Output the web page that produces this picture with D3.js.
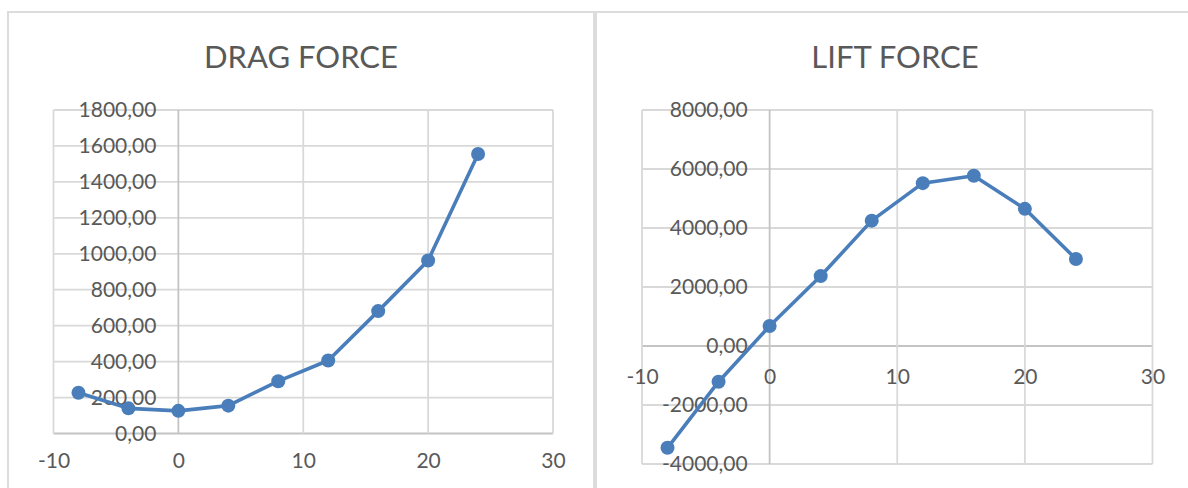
<!DOCTYPE html>
<html>
<head>
<meta charset="utf-8">
<script src="https://cdn.jsdelivr.net/npm/d3@7/dist/d3.min.js"></script>
<style>
  html, body { margin: 0; padding: 0; background: #ffffff; }
  svg { display: block; }
  text { font-family: Lato, "Open Sans", sans-serif; fill: #595959; }
</style>
</head>
<body>
<svg id="chart" width="1188" height="488"></svg>
<script>
// Angle of attack (degrees) shared by both series
const angles = [-8, -4, 0, 4, 8, 12, 16, 20, 24];

// Drag force values
const dragValues = [227, 140, 126, 155, 291, 406, 681, 963, 1555];

// Lift force values
const liftValues = [-3450, -1210, 680, 2370, 4250, 5520, 5770, 4650, 2950];

// Axis ticks
const xTicks = [-10, 0, 10, 20, 30];
const dragTicks = [0, 200, 400, 600, 800, 1000, 1200, 1400, 1600, 1800];
const liftTicks = [-4000, -2000, 0, 2000, 4000, 6000, 8000];

const titles = ["DRAG FORCE", "LIFT FORCE"];

const svg = d3.select("#chart");
const lineColor = "#4a7ebb";
const gridColor = "#d9d9d9";
const axisColor = "#c4c4c4";
// decimal comma and plain hyphen-minus, as in the spreadsheet locale
const fmt = v => d3.format(".2f")(v).replace(".", ",").replace("\u2212", "-");
const fmtInt = v => d3.format("d")(v).replace("\u2212", "-");

// Chart frames (chart-area borders)
svg.append("rect").attr("x", 8).attr("y", 12).attr("width", 586).attr("height", 490)
  .attr("fill", "#fff").attr("stroke", "#dcdcdc").attr("stroke-width", 2);
svg.append("rect").attr("x", 596).attr("y", 12).attr("width", 620).attr("height", 490)
  .attr("fill", "#fff").attr("stroke", "#dcdcdc").attr("stroke-width", 2);

function drawChart(cfg) {
  const g = svg.append("g");
  const x = d3.scaleLinear().domain([-10, 30]).range(cfg.xRange);
  const y = d3.scaleLinear().domain(d3.extent(cfg.yTicks)).range(cfg.yRange);

  // title
  g.append("text")
    .attr("x", cfg.titleX).attr("y", 68)
    .attr("text-anchor", "middle")
    .style("font-size", "31px")
    .text(cfg.title);

  // horizontal gridlines
  g.selectAll(".hgrid").data(cfg.yTicks).join("line")
    .attr("x1", x(-10)).attr("x2", x(30))
    .attr("y1", d => y(d)).attr("y2", d => y(d))
    .attr("stroke", d => d === 0 ? axisColor : gridColor)
    .attr("stroke-width", 1.8);

  // vertical gridlines
  g.selectAll(".vgrid").data(xTicks).join("line")
    .attr("x1", d => x(d)).attr("x2", d => x(d))
    .attr("y1", y.range()[0]).attr("y2", y.range()[1])
    .attr("stroke", d => d === 0 ? axisColor : gridColor)
    .attr("stroke-width", 1.8);

  // value axis labels, placed beside the vertical axis at x = 0
  const yAxis = d3.axisLeft(y).tickValues(cfg.yTicks).tickSize(0).tickPadding(22).tickFormat(fmt);
  g.append("g").attr("transform", `translate(${x(0)},0)`).call(yAxis)
    .call(a => a.select(".domain").remove())
    .call(a => a.selectAll("text").style("font-size", "21px").attr("fill", "#595959")
      .style("font-family", "Lato, 'Open Sans', sans-serif"));

  // category axis labels, placed below the horizontal axis at y = 0
  const xAxis = d3.axisBottom(x).tickValues(xTicks).tickSize(0).tickPadding(cfg.xLabelPad).tickFormat(fmtInt);
  g.append("g").attr("transform", `translate(0,${y(0)})`).call(xAxis)
    .call(a => a.select(".domain").remove())
    .call(a => a.selectAll("text").style("font-size", "21px").attr("fill", "#595959")
      .style("font-family", "Lato, 'Open Sans', sans-serif"));

  const pts = angles.map((a, i) => [a, cfg.values[i]]);

  g.append("path").datum(pts)
    .attr("fill", "none")
    .attr("stroke", lineColor)
    .attr("stroke-width", 3.6)
    .attr("stroke-linejoin", "round")
    .attr("d", d3.line().x(d => x(d[0])).y(d => y(d[1])));

  g.selectAll(".pt").data(pts).join("circle")
    .attr("cx", d => x(d[0])).attr("cy", d => y(d[1]))
    .attr("r", 7)
    .attr("fill", lineColor);
}

drawChart({
  title: titles[0], titleX: 301,
  values: dragValues, yTicks: dragTicks,
  xRange: [53.5, 553], yRange: [433.5, 110],
  xLabelPad: 20
});

drawChart({
  title: titles[1], titleX: 895,
  values: liftValues, yTicks: liftTicks,
  xRange: [642, 1152.5], yRange: [464, 110],
  xLabelPad: 23
});
</script>
</body>
</html>
